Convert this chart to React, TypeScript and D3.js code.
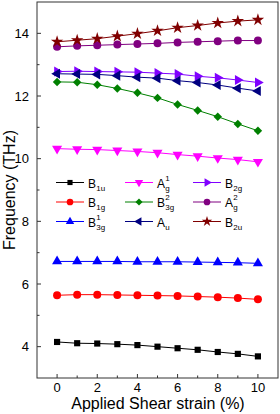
import React from 'react';
import * as d3 from 'd3';

// applied shear strain (%)
const strain = [0, 1, 2, 3, 4, 5, 6, 7, 8, 9, 10];

// phonon frequencies (THz)
const b1u = [4.15, 4.11, 4.10, 4.08, 4.05, 4.00, 3.95, 3.90, 3.83, 3.77, 3.69];
const b1g = [5.64, 5.66, 5.66, 5.65, 5.64, 5.63, 5.62, 5.60, 5.58, 5.55, 5.51];
const b3g1 = [6.72, 6.72, 6.72, 6.72, 6.71, 6.71, 6.71, 6.70, 6.69, 6.68, 6.66];
const ag1 = [10.32, 10.30, 10.29, 10.26, 10.23, 10.19, 10.13, 10.08, 10.02, 9.97, 9.90];
const b3g2 = [12.45, 12.44, 12.36, 12.24, 12.10, 11.94, 11.73, 11.54, 11.34, 11.11, 10.89];
const au = [12.71, 12.70, 12.69, 12.65, 12.60, 12.57, 12.49, 12.43, 12.35, 12.25, 12.16];
const b2g = [12.78, 12.79, 12.78, 12.77, 12.76, 12.73, 12.70, 12.63, 12.58, 12.51, 12.43];
const ag2 = [13.57, 13.60, 13.62, 13.64, 13.66, 13.68, 13.71, 13.73, 13.75, 13.77, 13.77];
const b2u = [13.73, 13.78, 13.83, 13.91, 13.99, 14.08, 14.18, 14.25, 14.33, 14.39, 14.43];

const xTicks = [0, 2, 4, 6, 8, 10];
const xMinor = [1, 3, 5, 7, 9];
const yTicks = [4, 6, 8, 10, 12, 14];
const yMinor = [5, 7, 9, 11, 13];

type Mark = 'square' | 'circle' | 'up' | 'down' | 'left' | 'right' | 'diamond' | 'star';

interface Series {
  base: string;
  sub: string;
  sup?: string;
  color: string;
  mark: Mark;
  values: number[];
}

// legend order: row by row, three columns
const series: Series[] = [
  { base: 'B', sub: '1u', color: '#000000', mark: 'square', values: b1u },
  { base: 'A', sub: 'g', sup: '1', color: '#ff00ff', mark: 'down', values: ag1 },
  { base: 'B', sub: '2g', color: '#8000ff', mark: 'right', values: b2g },
  { base: 'B', sub: '1g', color: '#ff0000', mark: 'circle', values: b1g },
  { base: 'B', sub: '3g', sup: '2', color: '#008000', mark: 'diamond', values: b3g2 },
  { base: 'A', sub: 'g', sup: '2', color: '#800080', mark: 'circle', values: ag2 },
  { base: 'B', sub: '3g', sup: '1', color: '#0000ff', mark: 'up', values: b3g1 },
  { base: 'A', sub: 'u', color: '#000080', mark: 'left', values: au },
  { base: 'B', sub: '2u', color: '#800000', mark: 'star', values: b2u },
];

const W = 280;
const H = 414;
const FONT = '"Liberation Sans", Arial, sans-serif';

const x = d3.scaleLinear().domain([-1, 11]).range([37, 278]);
const y = d3.scaleLinear().domain([3, 15]).range([378, 2]);

function markPath(mark: Mark, scale = 1) {
  const sym = d3.symbol();
  switch (mark) {
    case 'square': return { d: sym.type(d3.symbolSquare).size(38 * scale)()!, rot: 0 };
    case 'circle': return { d: sym.type(d3.symbolCircle).size(50 * scale)()!, rot: 0 };
    case 'diamond': return { d: sym.type(d3.symbolSquare).size(36 * scale)()!, rot: 45 };
    case 'star': return { d: sym.type(d3.symbolStar).size(48 * scale)()!, rot: 0 };
    case 'up': return { d: sym.type(d3.symbolTriangle).size(44 * scale)()!, rot: 0 };
    case 'down': return { d: sym.type(d3.symbolTriangle).size(44 * scale)()!, rot: 180 };
    case 'left': return { d: sym.type(d3.symbolTriangle).size(44 * scale)()!, rot: -90 };
    case 'right': return { d: sym.type(d3.symbolTriangle).size(44 * scale)()!, rot: 90 };
  }
}

function Legend() {
  const colX = [56, 125, 193];
  const rowY = [182.5, 202, 221.5];
  return (
    <g fontFamily={FONT}>
      {series.map((s, i) => {
        const cx = colX[i % 3];
        const cy = rowY[Math.floor(i / 3)];
        const m = markPath(s.mark, 0.7);
        const tx = cx + 32;
        const bw = 8.2;
        return (
          <g key={i}>
            <line x1={cx} x2={cx + 28} y1={cy} y2={cy} stroke={s.color} strokeWidth={1} />
            <path d={m.d} transform={`translate(${cx + 14},${cy}) rotate(${m.rot})`} fill={s.color} />
            <text x={tx} y={cy + 5} fontSize={12} fill="#000">{s.base}</text>
            <text x={tx + bw} y={cy + 8} fontSize={8} fill="#000">{s.sub}</text>
            {s.sup && <text x={tx + bw} y={cy - 2} fontSize={8} fill="#000">{s.sup}</text>}
          </g>
        );
      })}
    </g>
  );
}

export default function App() {
  const line = d3.line<number>()
    .x((_, i) => x(strain[i]))
    .y(d => y(d));

  return (
    <svg width={W} height={H} style={{ position: 'absolute', left: 0, top: 0, background: '#fff' }}>
      {/* frame */}
      <rect x={37} y={2} width={241} height={376} fill="none" stroke="#333" strokeWidth={1} />

      {/* y axis ticks */}
      {yTicks.map(t => (
        <g key={'y' + t}>
          <line x1={37} x2={41} y1={y(t)} y2={y(t)} stroke="#333" />
          <text x={29} y={y(t)} dy="0.35em" textAnchor="end" fontSize={13} fontFamily={FONT}>{t}</text>
        </g>
      ))}
      {yMinor.map(t => (
        <line key={'ym' + t} x1={37} x2={39.5} y1={y(t)} y2={y(t)} stroke="#333" />
      ))}

      {/* x axis ticks */}
      {xTicks.map(t => (
        <g key={'x' + t}>
          <line x1={x(t)} x2={x(t)} y1={378} y2={374} stroke="#333" />
          <text x={x(t)} y={392} textAnchor="middle" fontSize={13} fontFamily={FONT}>{t}</text>
        </g>
      ))}
      {xMinor.map(t => (
        <line key={'xm' + t} x1={x(t)} x2={x(t)} y1={378} y2={375.5} stroke="#333" />
      ))}

      {/* axis titles */}
      <text x={158} y={409} textAnchor="middle" fontSize={16} fontFamily={FONT}>Applied Shear strain (%)</text>
      <text transform="translate(15,190) rotate(-90)" textAnchor="middle" fontSize={16} fontFamily={FONT}>Frequency (THz)</text>

      {/* series */}
      {series.map((s, i) => {
        const m = markPath(s.mark);
        return (
          <g key={'s' + i}>
            <path d={line(s.values)!} fill="none" stroke={s.color} strokeWidth={1} />
            {s.values.map((v, j) => (
              <path key={j} d={m.d} transform={`translate(${x(strain[j])},${y(v)}) rotate(${m.rot})`} fill={s.color} />
            ))}
          </g>
        );
      })}

      <Legend />
    </svg>
  );
}
